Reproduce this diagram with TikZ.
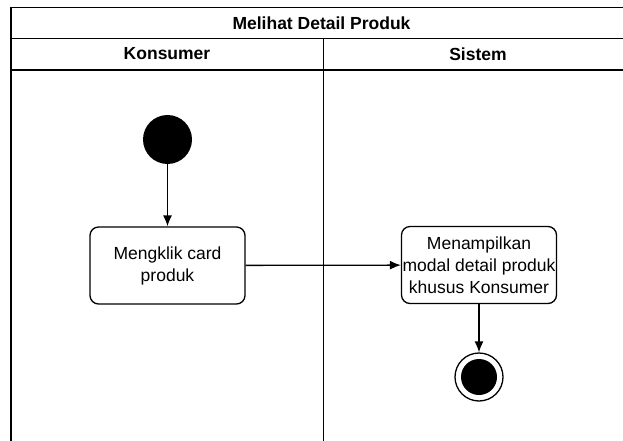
\documentclass[tikz,border=0pt]{standalone}
\usepackage{fontspec}
\setmainfont{Liberation Sans}
\usetikzlibrary{positioning, arrows.meta}

\begin{document}
\begin{tikzpicture}[x=1pt,y=-1pt,
        lane/.style={% For the swimlane frame
            draw,
            line width=1.3pt,
            },
        header/.style={% For the titles of the lanes
            font=\fontsize{17.5}{21}\selectfont\bfseries,
            },
        action/.style={% For the actions
            rectangle,
            rounded corners=3mm,
            draw,
            line width=1.3pt,
            minimum width=155pt,
            minimum height=77pt,
            align=center,
            inner sep=1pt,
            font=\fontsize{17.5}{22}\selectfont,
            },
        start/.style={% Initial node
            circle,
            fill,
            inner sep=0pt,
            minimum size=49pt,
            },
        stop/.style={% Final node
            circle,
            draw,
            line width=1.3pt,
            inner sep=0pt,
            minimum size=48pt,
            path picture={\fill (path picture bounding box.center) circle (18pt);},
            },
        flow/.style={% Arrows between nodes
            -{Latex[length=11pt,width=9pt]},
            line width=1.3pt,
            },
            ]
         \useasboundingbox (0,0) rectangle (623,441);
         \clip (0,0) rectangle (623,441);
	    % Swimlane frame
         \draw[lane] (11,441) -- (11,7.5) -- (632,7.5) -- (632,441);
         \draw[lane] (11,38.5) -- (632,38.5);
         \draw[lane] (11,70) -- (632,70);
         \draw[lane] (323.5,38.5) -- (323.5,441);
         \node[header] (title) at (321.5,23) {Melihat Detail Produk};
         \node[header] (lane1) at (167,54) {Konsumer};
         \node[header] (lane2) at (478,54) {Sistem};
	    % Activity
         \node[start] (s0) at (167.5,139.5) {};
         \node[action] (act1) at (167.5,265.5) {Mengklik card\\produk};
         \node[action] (act2) at (479,265) {Menampilkan\\modal detail produk\\khusus Konsumer};
         \node[stop] (s1) at (479,377) {};
	  \draw [flow] (s0) -- (act1);
	  \draw [flow] (act1) -- (act2);
	  \draw [flow] (act2) -- (s1);
        \end{tikzpicture}
\end{document}
